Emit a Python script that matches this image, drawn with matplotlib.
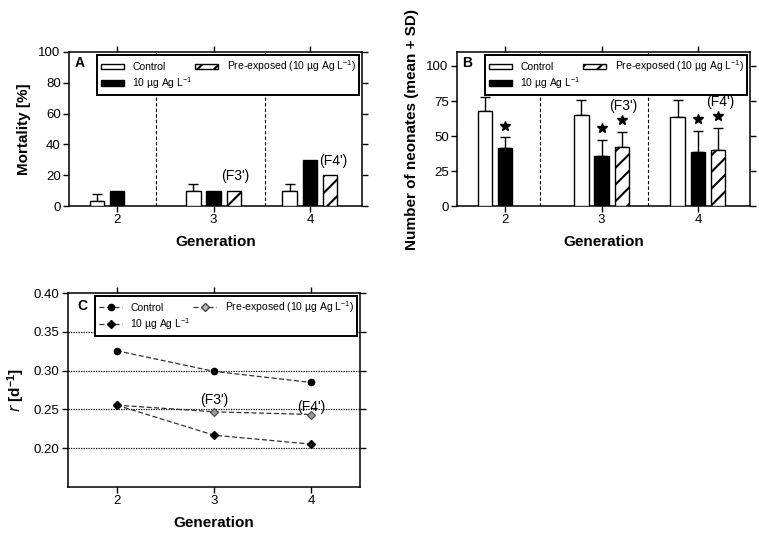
import matplotlib
matplotlib.use('Agg')
import matplotlib.pyplot as plt
import numpy as np
from matplotlib.patches import Patch
from matplotlib.lines import Line2D

plt.rcParams['font.family'] = ['Liberation Sans', 'DejaVu Sans']
plt.rcParams['mathtext.default'] = 'regular'
plt.rcParams['hatch.linewidth'] = 1.5
plt.rcParams['hatch.color'] = 'black'

# ---------------- data ----------------
generations = [2, 3, 4]
pre_generations = [3, 4]
gen_labels = ['2', '3', '4']
series_labels = ['Control', '10 µg Ag L$^{-1}$', 'Pre-exposed (10 µg Ag L$^{-1}$)']
pre_labels = ["(F3')", "(F4')"]

# Panel A: mortality [%]
mort_control = [3.3, 10, 10]
mort_control_sd = [4.7, 4.6, 4.6]
mort_ag = [10, 10, 30]
mort_pre = [10, 20]

# Panel B: number of neonates (mean + SD)
neo_control = [68, 65, 63.3]
neo_control_sd = [10.2, 10.8, 12.3]
neo_ag = [41.5, 36, 38.4]
neo_ag_sd = [7.5, 11.4, 15.4]
neo_pre = [42, 40]
neo_pre_sd = [11, 15.7]
neo_ag_sig = [True, True, True]
neo_pre_sig = [True, True]

# Panel C: population growth rate r [d-1]
r_control = [0.3256, 0.299, 0.2847]
r_ag = [0.2555, 0.2168, 0.2052]
r_pre_generations = [2, 3, 4]
r_pre = [0.2555, 0.2469, 0.2434]

# ---------------- style ----------------
W, H = 759, 534
fig = plt.figure(figsize=(W / 100, H / 100), dpi=100)

def ax_px(l, t, r, b):
    return [l / W, 1 - b / H, (r - l) / W, (b - t) / H]

axA = fig.add_axes(ax_px(69, 52, 362, 206))
axB = fig.add_axes(ax_px(457, 52, 750, 206))
axC = fig.add_axes(ax_px(68, 293, 360, 487))

off = 0.21
bw = 0.15
tick_fs = 9.5
lab_fs = 11
leg_fs = 7.5

leg_kw = dict(ncol=2, loc='upper right', bbox_to_anchor=(1.0, 1.0), borderaxespad=0.25,
              fontsize=leg_fs, handlelength=2.2, handletextpad=0.8, columnspacing=0.25,
              labelspacing=0.3, borderpad=0.35, fancybox=False, framealpha=1,
              edgecolor='black')

def style_axes(ax):
    for s in ax.spines.values():
        s.set_linewidth(1.1)
        s.set_color('black')
    ax.tick_params(axis='both', which='both', direction='out', length=4.5, width=1,
                   labelsize=tick_fs, top=True, right=True, pad=1.5)
    ax.set_xticks(generations)
    ax.set_xticklabels(gen_labels)
    ax.set_xlabel('Generation', fontsize=lab_fs, fontweight='bold', labelpad=6)

def bar_legend(ax):
    handles = [Patch(facecolor='white', edgecolor='black', linewidth=1),
               Patch(facecolor='black', edgecolor='black', linewidth=1),
               Patch(facecolor='white', edgecolor='black', linewidth=1, hatch='//')]
    leg = ax.legend(handles, series_labels, handleheight=0.45, **leg_kw)
    leg.get_frame().set_linewidth(1.4)
    leg.set_zorder(10)
    return leg

gen = np.array(generations, dtype=float)
pgen = np.array(pre_generations, dtype=float)

# ---------------- Panel A ----------------
ax = axA
for xv in [2.40, 3.53]:
    ax.axvline(xv, color='black', linestyle=(0, (3, 2)), linewidth=0.8, zorder=1)
ax.bar(gen - off, mort_control, bw, color='white', edgecolor='black', linewidth=1, zorder=3)
ax.errorbar(gen - off, mort_control, yerr=[np.zeros(3), mort_control_sd], fmt='none',
            ecolor='black', elinewidth=1, capsize=3.5, capthick=1, zorder=2)
ax.bar(gen, mort_ag, bw, color='black', edgecolor='black', linewidth=1, zorder=3)
ax.bar(pgen + off, mort_pre, bw, color='white', edgecolor='black', linewidth=1,
       hatch='//', zorder=3)
ax.text(3.23, 19.8, pre_labels[0], fontsize=10, ha='center', va='center')
ax.text(4.24, 29.0, pre_labels[1], fontsize=10, ha='center', va='center')
ax.set_xlim(1.5, 4.54)
ax.set_ylim(0, 100)
ax.set_yticks([0, 20, 40, 60, 80, 100])
style_axes(ax)
ax.set_ylabel('Mortality [%]', fontsize=lab_fs, fontweight='bold', labelpad=5)
bar_legend(ax)
ax.text(0.038, 0.93, 'A', transform=ax.transAxes, fontsize=10, fontweight='bold',
        ha='center', va='center', zorder=11)

# ---------------- Panel B ----------------
ax = axB
for xv in [2.36, 3.48]:
    ax.axvline(xv, color='black', linestyle=(0, (3, 2)), linewidth=0.8, zorder=1)
ax.bar(gen - off, neo_control, bw, color='white', edgecolor='black', linewidth=1, zorder=3)
ax.errorbar(gen - off, neo_control, yerr=[np.zeros(3), neo_control_sd], fmt='none',
            ecolor='black', elinewidth=1, capsize=3.5, capthick=1, zorder=2)
ax.bar(gen, neo_ag, bw, color='black', edgecolor='black', linewidth=1, zorder=3)
ax.errorbar(gen, neo_ag, yerr=[np.zeros(3), neo_ag_sd], fmt='none',
            ecolor='black', elinewidth=1, capsize=3.5, capthick=1, zorder=2)
ax.bar(pgen + off, neo_pre, bw, color='white', edgecolor='black', linewidth=1,
       hatch='//', zorder=3)
ax.errorbar(pgen + off, neo_pre, yerr=[np.zeros(2), neo_pre_sd], fmt='none',
            ecolor='black', elinewidth=1, capsize=3.5, capthick=1, zorder=2)
star_gap = 8.5
for x, m, s, sig in zip(gen, neo_ag, neo_ag_sd, neo_ag_sig):
    if sig:
        ax.plot(x, m + s + star_gap, marker='*', color='black', markersize=7, zorder=4)
for x, m, s, sig in zip(pgen + off, neo_pre, neo_pre_sd, neo_pre_sig):
    if sig:
        ax.plot(x, m + s + star_gap, marker='*', color='black', markersize=7, zorder=4)
ax.text(3.23, 71.5, pre_labels[0], fontsize=10, ha='center', va='center')
ax.text(4.23, 74.5, pre_labels[1], fontsize=10, ha='center', va='center')
ax.set_xlim(1.5, 4.54)
ax.set_ylim(0, 110)
ax.set_yticks([0, 25, 50, 75, 100])
style_axes(ax)
ax.set_ylabel('Number of neonates (mean + SD)', fontsize=lab_fs, fontweight='bold', labelpad=5)
bar_legend(ax)
ax.text(0.034, 0.93, 'B', transform=ax.transAxes, fontsize=10, fontweight='bold',
        ha='center', va='center', zorder=11)

# ---------------- Panel C ----------------
ax = axC
for yv in [0.20, 0.25, 0.30, 0.35]:
    ax.axhline(yv, color='black', linestyle=(0, (1, 1)), linewidth=0.9, zorder=1)
dash = (0, (4, 2))
ax.plot(r_pre_generations, r_pre, linestyle=dash, color='#333333', linewidth=0.9,
        marker='D', markersize=4.5, markerfacecolor='#9a9a9a', markeredgecolor='#444444',
        markeredgewidth=0.8, zorder=3)
ax.plot(generations, r_ag, linestyle=dash, color='#333333', linewidth=0.9,
        marker='D', markersize=4.5, markerfacecolor='black', markeredgecolor='black', zorder=4)
ax.plot(generations, r_control, linestyle=dash, color='#333333', linewidth=0.9,
        marker='o', markersize=4.5, markerfacecolor='black', markeredgecolor='black', zorder=4)
ax.text(3.0, 0.262, pre_labels[0], fontsize=10, ha='center', va='center')
ax.text(4.0, 0.2535, pre_labels[1], fontsize=10, ha='center', va='center')
ax.set_xlim(1.5, 4.5)
ax.set_ylim(0.15, 0.40)
ax.set_yticks([0.20, 0.25, 0.30, 0.35, 0.40])
ax.set_yticklabels(['0.20', '0.25', '0.30', '0.35', '0.40'])
style_axes(ax)
ax.set_ylabel('$\\mathit{r}$ [d$^{-1}$]', fontsize=lab_fs, fontweight='bold', labelpad=5)
handles = [Line2D([], [], linestyle=dash, color='#333333', linewidth=0.9, marker='o',
                  markersize=4.5, markerfacecolor='black', markeredgecolor='black'),
           Line2D([], [], linestyle=dash, color='#333333', linewidth=0.9, marker='D',
                  markersize=4.5, markerfacecolor='black', markeredgecolor='black'),
           Line2D([], [], linestyle=dash, color='#333333', linewidth=0.9, marker='D',
                  markersize=4.5, markerfacecolor='#bbbbbb', markeredgecolor='#444444')]
leg = ax.legend(handles, series_labels, numpoints=1, **leg_kw)
leg.get_frame().set_linewidth(1.4)
leg.set_zorder(10)
ax.text(0.048, 0.933, 'C', transform=ax.transAxes, fontsize=10, fontweight='bold',
        ha='center', va='center', zorder=11)

fig.savefig('out.png', dpi=100)
